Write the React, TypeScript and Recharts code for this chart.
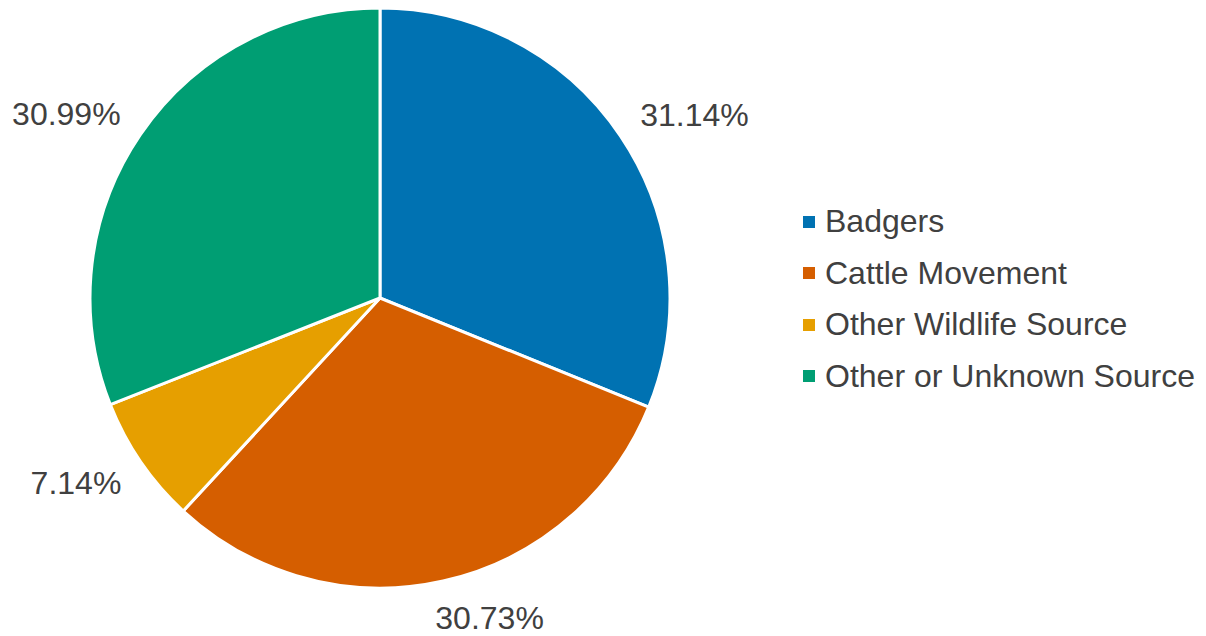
import { Pie, PieChart, Cell, Legend } from "recharts";

const sources = ["Badgers", "Cattle Movement", "Other Wildlife Source", "Other or Unknown Source"];
const shares = [31.14, 30.73, 7.14, 30.99];
const colors = ["#0072B2", "#D55E00", "#E69F00", "#009E73"];

const data = sources.map((name, i) => ({ name, value: shares[i] }));

const FONT = "'Liberation Sans', Arial, sans-serif";
const TEXT = "#404040";
const RADIAN = Math.PI / 180;

function renderLabel(props: any) {
  const { cx, cy, midAngle, outerRadius, value } = props;
  const text = `${value.toFixed(2)}%`;
  const w = text.length * 18;
  const h = 28;
  const dx = Math.cos(-midAngle * RADIAN);
  const dy = Math.sin(-midAngle * RADIAN);
  const r = outerRadius + 24;
  const px = cx + r * dx;
  const py = cy + r * dy;
  // push the label box out so its near edge sits just off the slice
  const x = px + Math.sign(dx) * Math.min(1, Math.abs(dx) * 3.5) * (w / 2);
  const y = py + dy * (h / 2);
  return (
    <text
      x={x}
      y={y}
      fill={TEXT}
      fontSize={32}
      fontFamily={FONT}
      textAnchor="middle"
      dominantBaseline="central"
    >
      {text}
    </text>
  );
}

function LegendContent() {
  return (
    <div style={{ fontFamily: FONT, fontSize: 32, color: TEXT }}>
      {sources.map((s, i) => (
        <div key={s} style={{ display: "flex", alignItems: "center", height: 51.5 }}>
          <span
            style={{
              display: "inline-block",
              width: 12,
              height: 12,
              background: colors[i],
              marginRight: 10,
            }}
          />
          <span>{s}</span>
        </div>
      ))}
    </div>
  );
}

export default function App() {
  return (
    <div style={{ position: "absolute", left: 0, top: 0, width: 1206, height: 636, background: "#fff" }}>
      <PieChart width={1206} height={636} margin={{ top: 0, right: 0, bottom: 0, left: 0 }}>
        <Pie
          data={data}
          dataKey="value"
          nameKey="name"
          cx={380}
          cy={298}
          outerRadius={290}
          startAngle={90}
          endAngle={-270}
          stroke="#fff"
          strokeWidth={3}
          label={renderLabel}
          labelLine={false}
          isAnimationActive={false}
        >
          {data.map((d, i) => (
            <Cell key={d.name} fill={colors[i]} />
          ))}
        </Pie>
        <Legend
          layout="vertical"
          content={<LegendContent />}
          wrapperStyle={{ position: "absolute", left: 803, top: 196, width: 400 }}
        />
      </PieChart>
    </div>
  );
}
